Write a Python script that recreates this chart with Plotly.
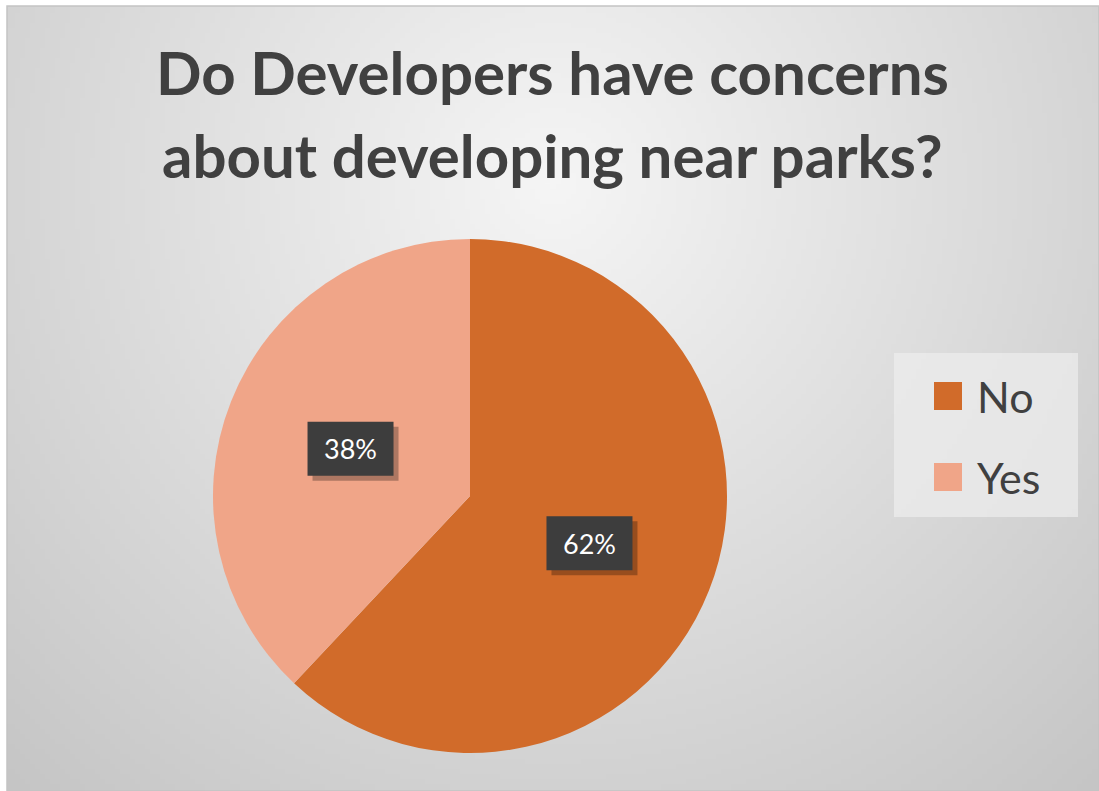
import base64
import math
import struct
import zlib

import plotly.graph_objects as go

# Survey results
labels = ["No", "Yes"]
shares = [62, 38]
colors = ["#D16B2A", "#F0A588"]
title_lines = ["Do Developers have concerns", "about developing near parks?"]

W, H = 1099, 791


def gradient_png(w, h, cx, cy, radius, c_in, c_out):
    """Small grayscale radial-gradient PNG, returned as a data URI."""
    rows = []
    for j in range(h):
        row = bytearray([0])
        for i in range(w):
            d = math.hypot(i - cx, j - cy) / radius
            t = min(d, 1.0)
            v = int(round(c_in + (c_out - c_in) * t))
            row += bytes([v, v, v])
        rows.append(bytes(row))
    raw = b"".join(rows)

    def chunk(tag, data):
        c = struct.pack(">I", len(data)) + tag + data
        return c + struct.pack(">I", zlib.crc32(tag + data) & 0xFFFFFFFF)

    png = b"\x89PNG\r\n\x1a\n"
    png += chunk(b"IHDR", struct.pack(">IIBBBBB", w, h, 8, 2, 0, 0, 0))
    png += chunk(b"IDAT", zlib.compress(raw, 9))
    png += chunk(b"IEND", b"")
    return "data:image/png;base64," + base64.b64encode(png).decode()


# chart area (pixels) inside a thin white page border
area_x0, area_y0 = 7, 6
area_w, area_h = W - area_x0, H - area_y0
scale = 5
bg = gradient_png(area_w // scale, area_h // scale,
                  (550 - area_x0) / scale, (180 - area_y0) / scale,
                  860 / scale, 245, 194)

# pie placement in pixels
pie_cx, pie_cy, pie_r = 470, 496, 257
dom_x = [(pie_cx - pie_r) / W, (pie_cx + pie_r) / W]
dom_y = [1 - (pie_cy + pie_r) / H, 1 - (pie_cy - pie_r) / H]

fig = go.Figure(go.Pie(
    labels=labels,
    values=shares,
    sort=False,
    direction="clockwise",
    rotation=0,
    marker=dict(colors=colors, line=dict(width=0)),
    textinfo="none",
    hoverinfo="label+percent",
    domain=dict(x=dom_x, y=dom_y),
    showlegend=False,
))

shapes = []
annotations = []

# percentage labels in dark boxes, halfway out along each slice's mid angle
total = sum(shares)
start = 0.0
for lab, val in zip(labels, shares):
    frac = val / total
    mid = (start + frac / 2) * 2 * math.pi  # clockwise from 12 o'clock
    start += frac
    px = pie_cx + 0.5 * pie_r * math.sin(mid)
    py = pie_cy - 0.5 * pie_r * math.cos(mid)
    bw, bh = 86, 54
    # drop shadow
    shapes.append(dict(type="rect", xref="paper", yref="paper", layer="above",
                       x0=(px - bw / 2 + 5) / W, x1=(px + bw / 2 + 5) / W,
                       y0=1 - (py + bh / 2 + 5) / H, y1=1 - (py - bh / 2 + 5) / H,
                       fillcolor="rgba(0,0,0,0.28)", line=dict(width=0)))
    shapes.append(dict(type="rect", xref="paper", yref="paper", layer="above",
                       x0=(px - bw / 2) / W, x1=(px + bw / 2) / W,
                       y0=1 - (py + bh / 2) / H, y1=1 - (py - bh / 2) / H,
                       fillcolor="#3d3d3d", line=dict(width=0)))
    annotations.append(dict(x=px / W, y=1 - py / H, xref="paper", yref="paper",
                            text=f"{round(frac * 100)}%", showarrow=False,
                            xanchor="center", yanchor="middle",
                            font=dict(family="Lato", size=27, color="white")))

# legend panel
shapes.append(dict(type="rect", xref="paper", yref="paper", layer="above",
                   x0=894 / W, x1=1078 / W, y0=1 - 517 / H, y1=1 - 353 / H,
                   fillcolor="rgba(236,236,236,0.75)", line=dict(width=0)))
leg_rows = [396, 477]
for lab, col, ry in zip(labels, colors, leg_rows):
    shapes.append(dict(type="rect", xref="paper", yref="paper", layer="above",
                       x0=934 / W, x1=962 / W, y0=1 - (ry + 14) / H, y1=1 - (ry - 14) / H,
                       fillcolor=col, line=dict(width=0)))
    annotations.append(dict(x=975 / W, y=1 - ry / H, xref="paper", yref="paper",
                            text=lab, showarrow=False, xanchor="left", yanchor="middle",
                            font=dict(family="Lato", size=43, color="#404040")))

# title, one annotation per line for exact line spacing
for line, ty in zip(title_lines, [72, 155]):
    annotations.append(dict(x=552 / W, y=1 - ty / H, xref="paper", yref="paper",
                            text=f"<b>{line}</b>",
                            showarrow=False, xanchor="center", yanchor="middle",
                            font=dict(family="Lato", size=60, color="#404040")))

# thin frame line along top and left of the chart area
shapes.append(dict(type="rect", xref="paper", yref="paper", layer="below",
                   x0=area_x0 / W, x1=1.0, y0=0.0, y1=1 - area_y0 / H,
                   fillcolor="rgba(0,0,0,0)", line=dict(color="#c4c4c4", width=1.5)))

fig.update_layout(
    width=W, height=H,
    margin=dict(l=0, r=0, t=0, b=0),
    paper_bgcolor="white",
    plot_bgcolor="white",
    shapes=shapes,
    annotations=annotations,
    images=[dict(source=bg, xref="paper", yref="paper",
                 x=area_x0 / W, y=1 - area_y0 / H,
                 sizex=1 - area_x0 / W, sizey=1 - area_y0 / H,
                 sizing="stretch", layer="below", xanchor="left", yanchor="top")],
)

fig.write_html("out.html", config={"displayModeBar": False})
